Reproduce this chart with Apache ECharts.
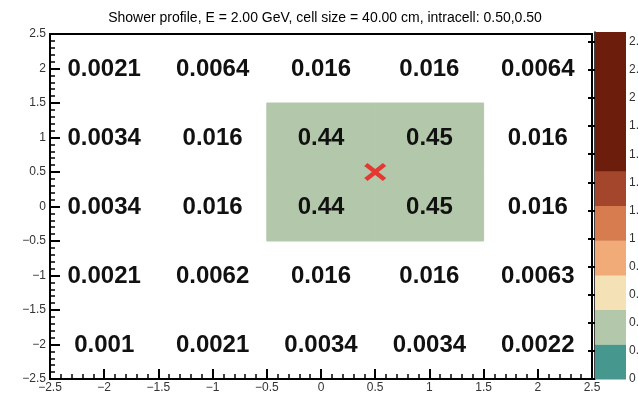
<!DOCTYPE html>
<html>
<head>
<meta charset="utf-8">
<style>
  html, body { margin: 0; padding: 0; background: #fff; }
  #chart { width: 638px; height: 393px; }
</style>
<script src="https://cdn.jsdelivr.net/npm/echarts@6/dist/echarts.min.js"></script>
</head>
<body>
<div id="chart"></div>
<script>
// Cell centres along each axis (cm units of cell size)
const xCenters = [-2, -1, 0, 1, 2];
const yCenters = [2, 1, 0, -1, -2];

// Energy fraction per cell, one row per y centre (top to bottom)
const rowY2  = [0.0021, 0.0064, 0.016, 0.016, 0.0064];
const rowY1  = [0.0034, 0.016, 0.44, 0.45, 0.016];
const rowY0  = [0.0034, 0.016, 0.44, 0.45, 0.016];
const rowYm1 = [0.0021, 0.0062, 0.016, 0.016, 0.0063];
const rowYm2 = [0.001, 0.0021, 0.0034, 0.0034, 0.0022];
const rows = [rowY2, rowY1, rowY0, rowYm1, rowYm2];

// Impact point inside the cell
const impact = [0.5, 0.5];

// Colour scale: upper edge, contour step and band colours
const zMax = 2.47;
const zStep = 0.247;
const bandColors = ['#46988f', '#b3c8aa', '#f4e1b6', '#f1ab79', '#d67c4f', '#a3462b',
                    '#6d1d0b', '#6d1d0b', '#6d1d0b', '#6d1d0b'];
const zTicks = [0, 0.2, 0.4, 0.6, 0.8, 1, 1.2, 1.4, 1.6, 1.8, 2, 2.2, 2.4];

const cellData = [];
rows.forEach((row, j) => row.forEach((v, i) => cellData.push([xCenters[i], yCenters[j], v])));

const bandData = bandColors.map((c, k) => [k * zStep, Math.min((k + 1) * zStep, zMax), k]);

function bandIndex(v) {
  return Math.min(Math.floor(v / zStep), bandColors.length - 1);
}

const minus = s => String(s).replace('-', '\u2212');
const font = 'Liberation Sans, Arial, Helvetica, sans-serif';

const chart = echarts.init(document.getElementById('chart'), null, { renderer: 'canvas' });

chart.setOption({
  animation: false,
  backgroundColor: '#fff',
  title: {
    text: 'Shower profile, E = 2.00 GeV, cell size = 40.00 cm, intracell: 0.50,0.50',
    left: 320, top: 6, textAlign: 'center',
    textStyle: { fontFamily: font, fontSize: 14, fontWeight: 'normal', color: '#000' }
  },
  grid: [
    { left: 50, right: 46, top: 34, bottom: 14, show: true, borderColor: '#000', borderWidth: 2,
      containLabel: false, outerBoundsMode: 'none' },
    { left: 595, width: 31, top: 32, bottom: 14, show: false, containLabel: false, outerBoundsMode: 'none' }
  ],
  xAxis: [
    {
      gridIndex: 0, type: 'value', min: -2.5, max: 2.5, interval: 0.5,
      axisLine: { show: true, onZero: false, lineStyle: { color: '#000', width: 2 } },
      axisTick: { show: true, inside: true, length: 10, lineStyle: { color: '#000', width: 2 } },
      minorTick: { show: true, splitNumber: 5, length: 5, lineStyle: { color: '#000', width: 1.5 } },
      splitLine: { show: false },
      axisLabel: { margin: 3, fontFamily: font, fontSize: 12, color: '#333', formatter: minus }
    },
    { gridIndex: 1, type: 'value', min: 0, max: 1, show: false }
  ],
  yAxis: [
    {
      gridIndex: 0, type: 'value', min: -2.5, max: 2.5, interval: 0.5,
      axisLine: { show: true, onZero: false, lineStyle: { color: '#000', width: 2 } },
      axisTick: { show: true, inside: true, length: 10, lineStyle: { color: '#000', width: 2 } },
      minorTick: { show: true, splitNumber: 5, length: 5, lineStyle: { color: '#000', width: 1.5 } },
      splitLine: { show: false },
      axisLabel: { margin: 4, fontFamily: font, fontSize: 12, color: '#333', formatter: minus }
    },
    {
      gridIndex: 1, type: 'value', min: 0, max: zMax, interval: 0.2, position: 'right',
      axisLine: { show: true, lineStyle: { color: '#000', width: 1.5 } },
      axisTick: { show: true, inside: true, length: 7,
        customValues: zTicks, lineStyle: { color: '#000', width: 2 } },
      splitLine: { show: false },
      axisLabel: {
        margin: 3, fontFamily: font, fontSize: 12, color: '#333',
        customValues: zTicks,
        formatter: v => zTicks.some(t => Math.abs(t - v) < 1e-6) ? String(+v.toFixed(1)) : ''
      }
    }
  ],
  series: [
    {
      // map cells with their content written in the middle
      type: 'custom', xAxisIndex: 0, yAxisIndex: 0,
      data: cellData,
      clip: true, z: 2,
      renderItem: (params, api) => {
        const x = api.value(0), y = api.value(1), v = api.value(2);
        const p0 = api.coord([x - 0.5, y + 0.5]);
        const p1 = api.coord([x + 0.5, y - 0.5]);
        const c = api.coord([x, y]);
        const k = bandIndex(v);
        const children = [];
        // the lowest contour is left unfilled on the map
        if (k > 0) {
          children.push({
            type: 'rect',
            shape: { x: p0[0], y: p0[1], width: p1[0] - p0[0], height: p1[1] - p0[1] },
            style: { fill: bandColors[k], stroke: bandColors[k], lineWidth: 1 }
          });
        }
        children.push({
          type: 'text', x: c[0], y: c[1] + 1,
          style: {
            text: String(v), align: 'center', verticalAlign: 'middle',
            font: 'bold 24px ' + font, fill: '#111'
          }
        });
        return { type: 'group', children };
      }
    },
    {
      // impact point
      type: 'scatter', xAxisIndex: 0, yAxisIndex: 0, z: 5,
      data: [impact],
      symbol: 'path://M0,3 L3,0 L10,6 L17,0 L20,3 L13,9 L20,15 L17,18 L10,12 L3,18 L0,15 L7,9 Z',
      symbolSize: [22, 18],
      itemStyle: { color: '#f21414' }
    },
    {
      // colour scale bands
      type: 'custom', xAxisIndex: 1, yAxisIndex: 1, z: 1,
      data: bandData,
      renderItem: (params, api) => {
        const p0 = api.coord([0, api.value(1)]);
        const p1 = api.coord([1, api.value(0)]);
        return {
          type: 'rect',
          shape: { x: p0[0], y: p0[1], width: p1[0] - p0[0], height: p1[1] - p0[1] + 0.5 },
          style: { fill: bandColors[api.value(2)] }
        };
      }
    }
  ]
});
</script>
</body>
</html>
